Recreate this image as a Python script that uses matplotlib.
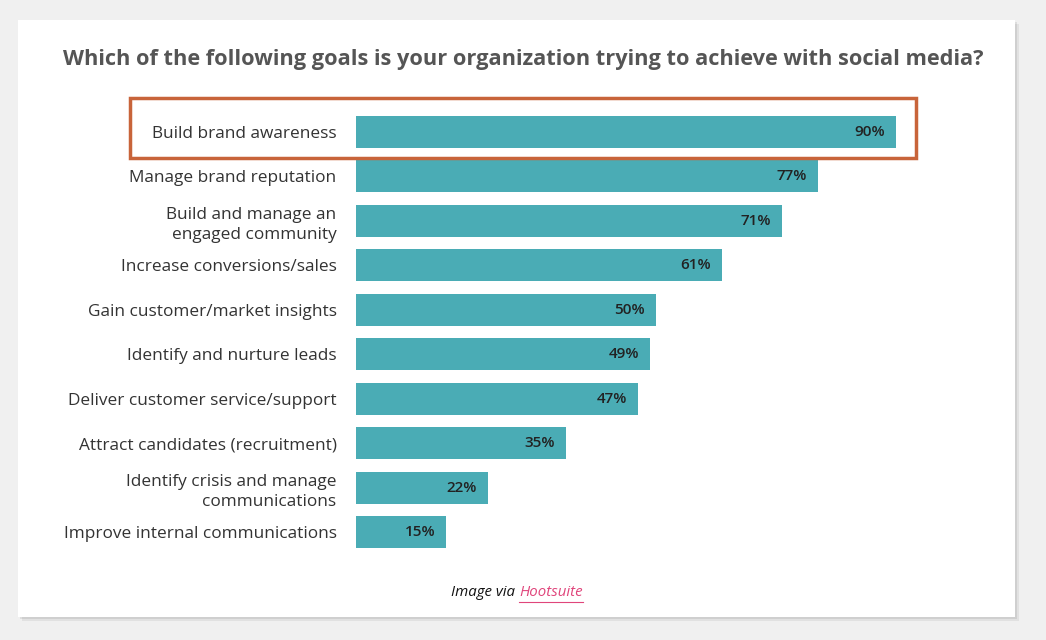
import matplotlib.pyplot as plt
from matplotlib.patches import Rectangle

plt.rcParams['font.family'] = ['Open Sans', 'DejaVu Sans']

goals = ["Build brand awareness", "Manage brand reputation",
         "Build and manage an\nengaged community", "Increase conversions/sales",
         "Gain customer/market insights", "Identify and nurture leads",
         "Deliver customer service/support", "Attract candidates (recruitment)",
         "Identify crisis and manage\ncommunications", "Improve internal communications"]
values = [90, 77, 71, 61, 50, 49, 47, 35, 22, 15]

W, H = 1046, 640
fig = plt.figure(figsize=(W / 100, H / 100), dpi=100)
fig.patch.set_facecolor('#f0f0f0')

# card with soft shadow
for off, a in [(4, 0.06), (2, 0.08)]:
    fig.patches.append(Rectangle(((18 + off) / W, 1 - (617 + off) / H), 997 / W, 597 / H,
                                 transform=fig.transFigure, facecolor='black', alpha=a, lw=0, zorder=0))
fig.patches.append(Rectangle((18 / W, 1 - 617 / H), 997 / W, 597 / H,
                             transform=fig.transFigure, facecolor='white', lw=0, zorder=0.5))

ax = fig.add_axes([356 / W, 1 - 554.2 / H, 600 / W, 444.4 / H])
ax.set_zorder(2)
ax.set_facecolor('none')
ypos = list(range(len(goals)))
ax.barh(ypos, values, height=0.72, color='#4aacb5')
ax.set_xlim(0, 100)
ax.set_ylim(len(goals) - 0.5, -0.5)
ax.set_yticks(ypos)
ax.set_yticklabels(goals, fontsize=12.4, color='#333333', linespacing=1.35)
ax.tick_params(axis='y', length=0, pad=14)
ax.set_xticks([])
for s in ax.spines.values():
    s.set_visible(False)
for y, v in zip(ypos, values):
    ax.text(v - 1.8, y, f"{v}%", ha='right', va='center', fontsize=11, fontweight='semibold', color='#222222')

fig.text(523 / W, 1 - 60 / H, "Which of the following goals is your organization trying to achieve with social media?",
         ha='center', va='center', fontsize=15.7, fontweight='bold', color='#555555', zorder=3)

# highlight frame
fig.patches.append(Rectangle((130 / W, 1 - 158 / H), 786 / W, 60 / H, transform=fig.transFigure,
                             fill=False, edgecolor='#c8643a', lw=2.5, zorder=5))

t1 = fig.text(0, 1 - 593 / H, "Image via ", ha='left', va='center', fontsize=10.8, style='italic', color='#111111', zorder=3)
t2 = fig.text(0, 1 - 593 / H, "Hootsuite", ha='left', va='center', fontsize=10.8, style='italic', color='#e0457b', zorder=3)
r = fig.canvas.get_renderer()
w1 = t1.get_window_extent(r).width
w2 = t2.get_window_extent(r).width
x0 = (517 - (w1 + w2) / 2)
t1.set_x(x0 / W)
t2.set_x((x0 + w1) / W)
fig.add_artist(plt.Line2D([(x0 + w1) / W, (x0 + w1 + w2) / W], [1 - 602 / H] * 2, color='#e0457b', lw=0.8, zorder=3))

fig.savefig('out.png', dpi=100, facecolor=fig.get_facecolor())
